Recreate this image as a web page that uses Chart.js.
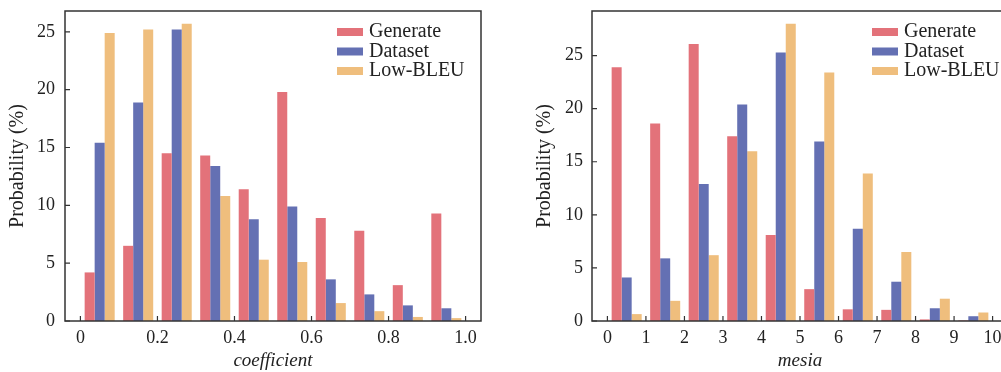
<!DOCTYPE html>
<html>
<head>
<meta charset="utf-8">
<script src="https://cdn.jsdelivr.net/npm/chart.js@4.4.0/dist/chart.umd.min.js"></script>
<style>
  html, body { margin: 0; padding: 0; background: #fff; overflow: hidden; }
  body { width: 1001px; height: 372px; position: relative; }
  .panel { position: absolute; top: 0; height: 372px; }
  #left { left: 0; width: 500px; }
  #right { left: 500px; width: 520px; }
</style>
</head>
<body>
<div class="panel" id="left"><canvas id="coefChart" width="500" height="372"></canvas></div>
<div class="panel" id="right"><canvas id="mesiaChart" width="520" height="372"></canvas></div>
<script>
'use strict';

const seriesNames = ['Generate', 'Dataset', 'Low-BLEU']
const seriesColors = ['#E3727A', '#6470B3', '#EFBE7D']

// coefficient histogram, bins of width 0.1 (centres)
const coefBins = [0.05, 0.15, 0.25, 0.35, 0.45, 0.55, 0.65, 0.75, 0.85, 0.95]
const coefGenerate = [4.2, 6.5, 14.5, 14.3, 11.4, 19.8, 8.9, 7.8, 3.1, 9.3]
const coefDataset = [15.4, 18.9, 25.2, 13.4, 8.8, 9.9, 3.6, 2.3, 1.35, 1.1]
const coefLowBleu = [24.9, 25.2, 25.7, 10.8, 5.3, 5.1, 1.55, 0.85, 0.35, 0.25]
const coefXTicks = [0, 0.2, 0.4, 0.6, 0.8, 1.0]
const coefXLabels = ['0', '0.2', '0.4', '0.6', '0.8', '1.0']
const coefYTicks = [0, 5, 10, 15, 20, 25]

// mesia histogram, unit bins (centres)
const mesiaBins = [0.5, 1.5, 2.5, 3.5, 4.5, 5.5, 6.5, 7.5, 8.5, 9.5]
const mesiaGenerate = [23.9, 18.6, 26.1, 17.4, 8.1, 3.0, 1.1, 1.05, 0.15, 0.05]
const mesiaDataset = [4.1, 5.9, 12.9, 20.4, 25.3, 16.9, 8.7, 3.7, 1.2, 0.45]
const mesiaLowBleu = [0.65, 1.9, 6.2, 16.0, 28.0, 23.4, 13.9, 6.5, 2.1, 0.8]
const mesiaXTicks = [0, 1, 2, 3, 4, 5, 6, 7, 8, 9, 10]
const mesiaXLabels = ['0', '1', '2', '3', '4', '5', '6', '7', '8', '9', '10']
const mesiaYTicks = [0, 5, 10, 15, 20, 25]

const serif = 'Liberation Serif'
const textColor = '#222'

// box around the plot, inward tick marks and the legend in the top right corner
const framePlugin = {
  id: 'frame',
  afterDraw(chart, args, opts) {
    const {ctx, chartArea: a, scales} = chart
    ctx.save()
    ctx.strokeStyle = '#333'
    ctx.lineWidth = 1.5
    ctx.strokeRect(a.left, a.top, a.right - a.left, a.bottom - a.top)

    ctx.lineWidth = 1.2
    ctx.beginPath()
    scales.x.ticks.forEach(t => {
      const px = scales.x.getPixelForValue(t.value)
      ctx.moveTo(px, a.bottom)
      ctx.lineTo(px, a.bottom - 5)
    })
    scales.y.ticks.forEach(t => {
      const py = scales.y.getPixelForValue(t.value)
      ctx.moveTo(a.left, py)
      ctx.lineTo(a.left + 5, py)
    })
    ctx.stroke()

    ctx.font = '20px "' + serif + '"'
    ctx.textBaseline = 'middle'
    ctx.fillStyle = textColor
    const x0 = a.right - opts.legendOffset
    chart.data.datasets.forEach((ds, i) => {
      const y = a.top + 21 + i * 19.5
      ctx.fillStyle = ds.backgroundColor
      ctx.fillRect(x0, y - 4, 26, 8)
      ctx.fillStyle = textColor
      ctx.fillText(ds.label, x0 + 32, y)
    })
    ctx.restore()
  }
}

function makeChart(canvasId, bins, series, setup) {
  const datasets = series.map((vals, i) => ({
    label: seriesNames[i],
    data: vals.map((v, j) => ({x: bins[j], y: v})),
    backgroundColor: seriesColors[i],
    borderWidth: 0,
    categoryPercentage: 0.78,
    barPercentage: 1.0,
  }))

  const config = {
    type: 'bar',
    data: {datasets: datasets},
    plugins: [framePlugin],
    options: {
      responsive: false,
      animation: false,
      devicePixelRatio: 1,
      layout: {padding: {top: 11, right: setup.padRight, left: 0, bottom: 0}},
      plugins: {
        legend: {display: false},
        tooltip: {enabled: false},
        frame: {legendOffset: setup.legendOffset},
      },
      scales: {
        x: {
          type: 'linear',
          offset: false,
          min: setup.xMin,
          max: setup.xMax,
          grid: {display: false, drawTicks: false},
          border: {display: false},
          afterBuildTicks: s => { s.ticks = setup.xTicks.map(v => ({value: v})) },
          afterFit: s => {
            s.height = 51
            s.paddingLeft = 0
            s.paddingRight = 0
          },
          ticks: {
            autoSkip: false,
            maxRotation: 0,
            padding: 6,
            color: textColor,
            font: {family: serif, size: 18},
            callback: (v, idx) => setup.xLabels[idx],
          },
          title: {
            display: true,
            text: setup.xTitle,
            color: textColor,
            font: {family: serif, size: 19, style: 'italic'},
            padding: {top: 0, bottom: 0},
          },
        },
        y: {
          type: 'linear',
          min: 0,
          max: setup.yMax,
          grid: {display: false, drawTicks: false},
          border: {display: false},
          afterBuildTicks: s => { s.ticks = setup.yTicks.map(v => ({value: v})) },
          afterFit: s => {
            s.width = setup.axisWidth
            s.paddingTop = 0
            s.paddingBottom = 0
          },
          ticks: {
            autoSkip: false,
            padding: setup.yPad,
            color: textColor,
            font: {family: serif, size: 18},
          },
          title: {
            display: true,
            text: 'Probability (%)',
            color: textColor,
            font: {family: serif, size: 20},
            padding: {top: setup.titlePad, bottom: 0},
          },
        },
      },
    },
  }

  return new Chart(document.getElementById(canvasId), config)
}

makeChart('coefChart', coefBins, [coefGenerate, coefDataset, coefLowBleu], {
  xMin: -0.04, xMax: 1.04, xTicks: coefXTicks, xLabels: coefXLabels, xTitle: 'coefficient',
  yMax: 26.8, yTicks: coefYTicks, axisWidth: 65, yPad: 10, titlePad: 6,
  padRight: 19, legendOffset: 144,
})

makeChart('mesiaChart', mesiaBins, [mesiaGenerate, mesiaDataset, mesiaLowBleu], {
  xMin: -0.4, xMax: 10.4, xTicks: mesiaXTicks, xLabels: mesiaXLabels, xTitle: 'mesia',
  yMax: 29.2, yTicks: mesiaYTicks, axisWidth: 92, yPad: 9, titlePad: 33,
  padRight: 12, legendOffset: 136,
})
</script>
</body>
</html>
